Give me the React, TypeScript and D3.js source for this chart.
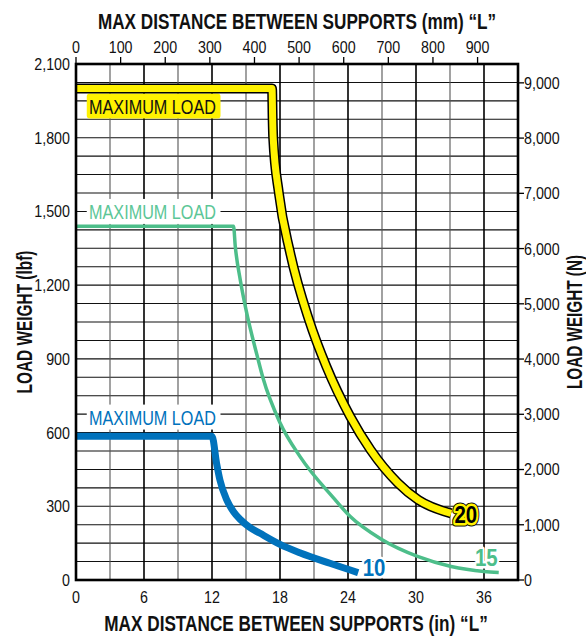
import React from "react";
import * as d3 from "d3";

// ---- data ----
const mmTicks = [0, 100, 200, 300, 400, 500, 600, 700, 800, 900];
const inchTicks = [0, 6, 12, 18, 24, 30, 36];
const lbfTicks = [0, 300, 600, 900, 1200, 1500, 1800, 2100];
const newtonTicks = [0, 1000, 2000, 3000, 4000, 5000, 6000, 7000, 8000, 9000];

// [inches, lbf]
const curve10: [number, number][] = [
  [0, 585], [12, 585], [12.4, 476], [12.7, 407], [13.3, 326], [13.9, 278],
  [14.5, 246], [15.3, 215], [16.2, 191], [18, 145], [19.8, 110], [22.4, 68], [24.9, 30],
];
const curve15: [number, number][] = [
  [0, 1440], [13.9, 1440], [14.05, 1360], [14.5, 1220], [15, 1100], [16, 910],
  [16.5, 822], [18, 640], [19.8, 500], [22.7, 335], [24.2, 258], [26.9, 167],
  [30.2, 95], [33.1, 55], [36, 35], [37.3, 31],
];
const curve20: [number, number][] = [
  [0, 2000], [17.3, 2000], [17.35, 1880], [17.4, 1800], [17.9, 1575],
  [18.9, 1331], [20.56, 1058], [22.1, 868], [24.2, 665], [26, 529],
  [28.4, 395], [30.2, 326], [33.1, 271],
];

const maxLabelLbf = [1929, 1500, 663]; // yellow, green, blue label rows
const endLabels = ["20", "15", "10"];
const endLabelAt: [number, number][] = [[34.4, 234], [36.2, 57], [26.3, 16]];

const FONT = "'Liberation Sans', Arial, Helvetica, sans-serif";
const YELLOW = "#FFF200";
const GREEN = "#4DBE8A";
const GREEN_TXT = "#5CC697";
const BLUE = "#0072BC";

const W = 586;
const H = 637;
const L = 76, R = 518, T = 64, B = 580;

type TxtProps = {
  x: number;
  y: number;
  sx?: number;
  rot?: number;
  anchor?: "start" | "middle" | "end";
  size: number;
  weight?: number;
  fill?: string;
  dy?: string;
  children: React.ReactNode;
};

function Txt({ x, y, sx = 1, rot = 0, anchor = "start", size, weight = 400, fill = "#111", dy, children }: TxtProps) {
  return (
    <text
      transform={`translate(${x},${y}) rotate(${rot}) scale(${sx},1)`}
      textAnchor={anchor}
      fontSize={size}
      fontWeight={weight}
      fill={fill}
      dy={dy}
    >
      {children}
    </text>
  );
}

export default function App() {
  const x = d3.scaleLinear().domain([0, 39]).range([L, R]);
  const xmm = d3.scaleLinear().domain([0, 39 * 25.4]).range([L, R]);
  const y = d3.scaleLinear().domain([0, 2100]).range([B, T]);
  const yN = d3.scaleLinear().domain([0, 2100 * 4.44822]).range([B, T]);

  const line = d3
    .line<[number, number]>()
    .x((d) => x(d[0]))
    .y((d) => y(d[1]))
    .curve(d3.curveMonotoneX);

  const vGrid = d3.range(0, 39.01, 3);
  const hGrid = d3.range(0, 2100.1, 75);

  const labelColors = [
    { fill: "#111", bg: YELLOW },
    { fill: GREEN_TXT, bg: "#fff" },
    { fill: BLUE, bg: "#fff" },
  ];
  const fmt = d3.format(",");
  const TS = 0.84; // tick label horizontal squeeze

  return (
    <svg
      width={W}
      height={H}
      style={{ position: "absolute", left: 0, top: 0, display: "block", background: "#fff" }}
      fontFamily={FONT}
    >
      <rect x={0} y={0} width={W} height={H} fill="#fff" />
      {/* grid */}
      {hGrid.map((v) => (
        <line key={"h" + v} x1={L} x2={R} y1={y(v)} y2={y(v)} stroke="#111" strokeWidth={1.1} />
      ))}
      {vGrid.map((v) => (
        <line
          key={"v" + v}
          x1={x(v)}
          x2={x(v)}
          y1={T}
          y2={B}
          stroke={v % 6 === 0 ? "#000" : "#555"}
          strokeWidth={v % 6 === 0 ? 1.6 : 1.1}
        />
      ))}

      {/* max load labels */}
      {maxLabelLbf.map((v, i) => (
        <g key={"ml" + i}>
          <rect
            x={x(0.95)}
            y={y(v) - 12.5}
            width={x(12.75) - x(0.95)}
            height={25}
            rx={i === 0 ? 3 : 0}
            fill={labelColors[i].bg}
          />
          <Txt x={x(1.15)} y={y(v) + 8} sx={0.772} size={21} fill={labelColors[i].fill}>
            MAXIMUM LOAD
          </Txt>
        </g>
      ))}

      {/* curves */}
      <path d={line(curve15) || ""} fill="none" stroke={GREEN} strokeWidth={3.5} strokeLinejoin="miter" />
      <path d={line(curve10) || ""} fill="none" stroke={BLUE} strokeWidth={7} strokeLinejoin="miter" />
      <path d={line(curve20) || ""} fill="none" stroke="#000" strokeWidth={10} strokeLinejoin="miter" />
      <path d={line(curve20) || ""} fill="none" stroke={YELLOW} strokeWidth={7} strokeLinejoin="miter" />

      {/* end labels */}
      {endLabels.map((t, i) => {
        const px = x(endLabelAt[i][0]);
        const py = y(endLabelAt[i][1]);
        const tf = `translate(${px},${py}) scale(0.85,1)`;
        const common = { transform: tf, textAnchor: "middle" as const, fontSize: 24, fontWeight: 700 };
        if (i === 0) {
          return (
            <g key={t}>
              <text {...common} stroke="#000" strokeWidth={7} strokeLinejoin="round" fill="#000">{t}</text>
              <text {...common} stroke={YELLOW} strokeWidth={5} strokeLinejoin="round" fill="#000">{t}</text>
              <text {...common} fill="#000">{t}</text>
            </g>
          );
        }
        const col = i === 1 ? GREEN : BLUE;
        return (
          <g key={t}>
            <text {...common} stroke="#fff" strokeWidth={5} strokeLinejoin="round" fill={col}>{t}</text>
            <text {...common} fill={col}>{t}</text>
          </g>
        );
      })}

      {/* frame */}
      <rect x={L} y={T} width={R - L} height={B - T} fill="none" stroke="#000" strokeWidth={2.6} />

      {/* top axis (mm) */}
      {mmTicks.map((v) => (
        <g key={"mm" + v}>
          <line x1={xmm(v)} x2={xmm(v)} y1={T} y2={T - 7} stroke="#000" strokeWidth={1.3} />
          <Txt x={xmm(v)} y={53} sx={TS} anchor="middle" size={17}>
            {v}
          </Txt>
        </g>
      ))}
      <Txt x={(L + R) / 2} y={29} sx={0.763} anchor="middle" size={22.5} weight={700}>
        MAX DISTANCE BETWEEN SUPPORTS (mm) “L”
      </Txt>

      {/* bottom axis (in) */}
      {inchTicks.map((v) => (
        <Txt key={"in" + v} x={x(v)} y={603} sx={TS} anchor="middle" size={17}>
          {v}
        </Txt>
      ))}
      <Txt x={(L + R) / 2 - 1} y={631} sx={0.764} anchor="middle" size={22.5} weight={700}>
        MAX DISTANCE BETWEEN SUPPORTS (in) “L”
      </Txt>

      {/* left axis (lbf) */}
      {lbfTicks.map((v) => (
        <Txt key={"lb" + v} x={70} y={y(v)} sx={TS} dy="0.35em" anchor="end" size={17}>
          {fmt(v)}
        </Txt>
      ))}
      <Txt x={32} y={(T + B) / 2} rot={-90} sx={0.685} anchor="middle" size={22.5} weight={700}>
        LOAD WEIGHT (lbf)
      </Txt>

      {/* right axis (N) */}
      {newtonTicks.map((v) => (
        <g key={"n" + v}>
          <line x1={R} x2={R + 6} y1={yN(v)} y2={yN(v)} stroke="#000" strokeWidth={1.3} />
          <Txt x={R + 6} y={yN(v)} sx={TS} dy="0.35em" size={17}>
            {fmt(v)}
          </Txt>
        </g>
      ))}
      <Txt x={582} y={(T + B) / 2} rot={-90} sx={0.68} anchor="middle" size={22.5} weight={700}>
        LOAD WEIGHT (N)
      </Txt>
    </svg>
  );
}
